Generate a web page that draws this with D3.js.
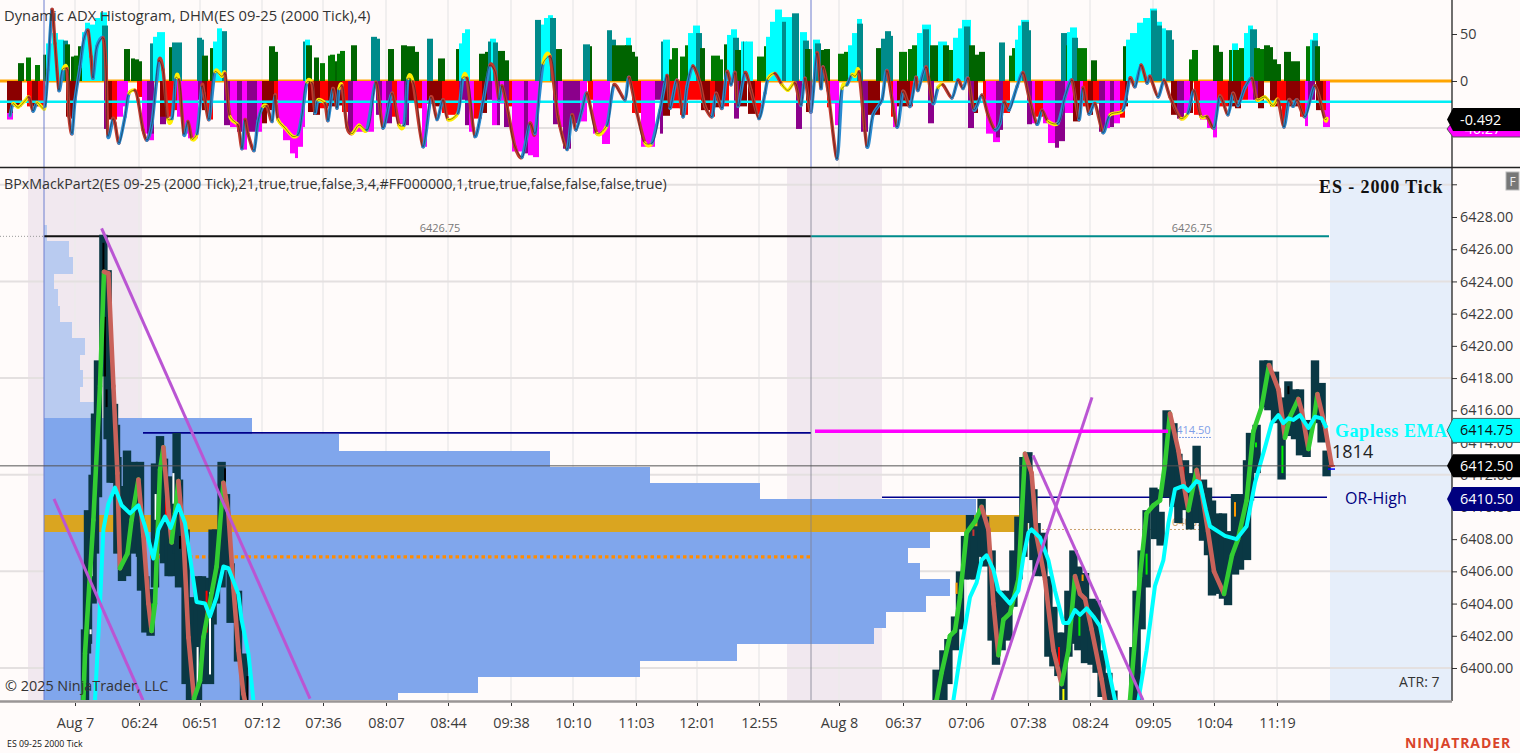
<!DOCTYPE html>
<html><head><meta charset="utf-8"><title>ES 09-25 2000 Tick</title>
<script src="https://cdnjs.cloudflare.com/ajax/libs/d3/7.9.0/d3.min.js"></script>
<style>html,body{margin:0;padding:0;background:#fffbfa;overflow:hidden}svg{display:block}text{font-family:"Open Sans","Noto Sans",sans-serif}</style>
</head><body><svg id="c" width="1520" height="753"></svg>
<script>
// ---- time axis (bar numbers) ----
const axisBars=[37.5,69.5,100,131,161.5,193,224,255.5,286.5,318,348.5,379.5,419.5,451.5,483,514,545,576.5,607,638.5];
const axisLabels=["Aug 7","06:24","06:51","07:12","07:36","08:07","08:44","09:38","10:10","11:03","12:01","12:55","Aug 8","06:37","07:06","07:38","08:24","09:05","10:04","11:19"];
// ---- ADX histogram runs: start bar, end bar, value, colour key ----
const histDown=[[3.5,6.5,-41,'P'],[3.5,6.5,-34,'M'],[6.5,11,-27,'M'],[13.5,16,-27,'R'],[16,19,-27,'M'],[19,22.5,-27,'R'],[33,35.5,-38,'M'],[35.5,37,-40,'M'],[37,38,-24,'M'],[52,54,-51,'V'],[54,56,-41,'M'],[56,58.5,-41,'R'],[58.5,61.5,-38,'P'],[61.5,64,-27,'P'],[68.5,71,-17,'R'],[71,73.5,-56,'P'],[73.5,77,-63,'P'],[73.5,77,-56,'V'],[80,83,-46,'V'],[80,83,-38,'M'],[83,86,-38,'R'],[86,88.5,-31,'R'],[88.5,91,-38,'P'],[91,94,-56,'P'],[94,99,-61,'P'],[99,101,-20,'V'],[101,103.5,-31,'M'],[103.5,106.5,-41,'R'],[112,115,-47,'V'],[115,118.5,-49,'P'],[118.5,121,-54,'V'],[121,123.5,-73,'P'],[123.5,125.5,-54,'V'],[125.5,128.5,-54,'V'],[128.5,131,-54,'P'],[131,133.5,-45,'M'],[133.5,137,-31,'M'],[137,139,-20,'R'],[139,141.5,-45,'P'],[141.5,145,-63,'P'],[145,147.5,-77,'P'],[147.5,149,-82,'P'],[149,151.5,-70,'P'],[151.5,152.5,-49,'P'],[154,156.5,-33,'M'],[156.5,160,-36,'M'],[160,164,-29,'R'],[164,167.5,-27,'M'],
[166,171,-26,'M'],[171,174,-33,'R'],[174,176.5,-56,'V'],[176.5,179,-54,'P'],[179,187,-54,'P'],[188,191,-36,'V'],[191,193,-49,'P'],[193,196,-45,'V'],[196,198.5,-38,'R'],[198.5,202,-46,'P'],[202,204.5,-47,'V'],[204.5,207.5,-23,'M'],[207.5,211,-29,'R'],[211,213.5,-70,'P'],[213.5,216.5,-24,'M'],[216.5,221,-27,'M'],[221,223.5,-34,'R'],[223.5,229.5,-36,'R'],[229.5,232.5,-20,'V'],[232.5,234.5,-47,'V'],[234.5,237,-54,'P'],[237,241,-40,'R'],[241,243.5,-34,'M'],[243.5,246,-20,'V'],[246,248.5,-47,'P'],[248.5,250,-47,'V'],[250,252,-24,'P'],[252,254.5,-49,'V'],[254.5,256,-27,'R'],[256,262,-75,'P'],[262,264,-77,'V'],[264,266.5,-79,'P'],[266.5,269.5,-81,'P'],[276.5,279,-46,'V'],[279,281.5,-49,'P'],[281.5,285.5,-72,'V'],[285.5,290,-45,'V'],[290,293.5,-43,'P'],[294,296.5,-20,'R'],[296.5,301,-56,'P'],[301,305,-67,'P'],[316,320.5,-34,'R'],[320.5,327.5,-70,'P'],[327.5,331.5,-20,'V'],[330,331.5,-56,'V'],[331.5,335,-37,'M'],
[335,340,-29,'R'],[340,344,-36,'R'],[344,350.5,-20,'R'],[350.5,355,-31,'M'],[355,357.5,-38,'R'],[357.5,361.5,-28,'M'],[361.5,364.5,-27,'R'],[367,369.5,-40,'V'],[369.5,373.5,-27,'M'],[374,377.5,-35,'M'],[377.5,380.5,-35,'R'],[398,401,-51,'V'],[403,406,-33,'M'],[413.5,415,-28,'R'],[415,417.5,-24,'P'],[417.5,419.5,-47,'P'],[430.5,434,-54,'V'],[434,440,-36,'M'],[445.5,446.5,-38,'R'],[446.5,448.5,-49,'P'],[448.5,455,-27,'M'],[455,456.5,-27,'R'],[464,467,-45,'V'],[484,487,-50,'V'],[487,489,-34,'M'],[491.5,493,-20,'R'],[493,496.5,-56,'P'],[496.5,500,-65,'P'],[498,500,-60,'V'],[500,501.5,-52,'V'],[501.5,505,-34,'R'],
[513.5,516,-46,'V'],[516,517.5,-45,'P'],[517.5,521.5,-38,'R'],[521.5,524,-45,'P'],[524,527.5,-66,'P'],[527.5,529.5,-71,'V'],[529.5,532.5,-64,'V'],[532.5,536.5,-34,'P'],[536.5,540,-43,'M'],[540,541.5,-20,'P'],[541.5,544,-27,'R'],[544,546.5,-36,'M'],[546.5,549.5,-24,'R'],[549.5,552.5,-54,'V'],[552.5,555,-50,'P'],[555,557,-49,'V'],[557,560,-45,'P'],[560,562.5,-39,'R'],[562.5,564,-27,'M'],[585.5,588.5,-36,'M'],[588.5,592,-40,'V'],[592,595,-34,'P'],[595,596.5,-34,'M'],[597,600,-36,'R'],[600,603.5,-41,'P'],[603.5,606.5,-50,'P'],[606.5,608.5,-60,'P'],[608.5,614,-27,'R'],[614,617.5,-27,'M'],[617.5,620.5,-29,'M'],[620.5,624,-20,'R'],[624,626.5,-20,'P'],[626.5,629,-20,'V'],[629,632,-29,'M'],[635,638.5,-27,'M'],[638.5,641,-27,'R'],[641,643,-45,'R'],[643,650,-27,'M'],[650,652.5,-38,'R'],[652.5,654,-48,'P'],[654,657.5,-20,'V'],[658,661.5,-31,'M'],[661.5,665,-49,'P'],[661.5,663,-31,'R']];
const histUp=[[9,12,19,'G'],[13,15.5,25,'g'],[17.5,20,17,'g'],[21.5,23,28,'G'],[23,26.5,40,'C'],[26,29,51,'C'],[29,32,44,'C'],[31.5,34,43,'T'],[32.5,35,39,'G'],[35.5,37,26,'G'],[37,40,27,'g'],[39,41,37,'G'],[41,42.5,52,'C'],[42.5,45,62,'C'],[45,47.5,60,'C'],[47.5,50,67,'C'],[50,53.5,73,'C'],[51,54,59,'T'],[62,65,34,'G'],[65.5,67.5,24,'G'],[67.5,69.5,23,'G'],[69.5,71,21,'G'],[75,76.5,40,'T'],[76.5,78.5,47,'C'],[78.5,82.5,52,'C'],[84.5,86,36,'G'],[86,91,41,'T'],[98.5,101,46,'T'],[101,102,44,'T'],[101,104,27,'G'],[105,106.5,35,'G'],[106.5,108.5,42,'C'],[108.5,111,56,'C'],[111,113.5,53,'T'],[134.5,137.5,37,'G'],[137.5,139,31,'G'],[151.5,153,42,'T'],[152.5,155,44,'C'],[153,156,38,'G'],[157,159.5,25,'G'],[160,162.5,19,'g'],[164,165,27,'g'],
[165,167.5,28,'g'],[167.5,168.5,21,'G'],[168.5,170,29,'g'],[170,172.5,32,'g'],[175.5,178.5,38,'G'],[185.5,188.5,47,'T'],[188.5,190,45,'T'],[194,197,34,'G'],[200.5,203.5,38,'G'],[202.5,205,37,'G'],[205,207.5,37,'G'],[207.5,209.5,31,'G'],[213.5,216.5,45,'T'],[219,222.5,24,'G'],[228,229.5,34,'G'],[229.5,231,40,'C'],[231,232.5,51,'C'],[232.5,235,55,'C'],[239.5,242.5,29,'G'],[242.5,244,31,'G'],[245,248,45,'C'],[244,245.5,42,'T'],[246.5,249,41,'T'],[249,252.5,32,'G'],[252.5,254.5,22,'G'],[267.5,270.5,65,'T'],[270.5,272,60,'C'],[272,274,67,'C'],[274,276.5,70,'C'],[275,278,67,'T'],[278,281,34,'G'],[291.5,295,39,'T'],[295,296,37,'G'],[303.5,306,54,'T'],[306,308,44,'T'],[306,311.5,38,'G'],[311.5,313,38,'G'],[313,315.5,46,'C'],[312.5,316,38,'G'],[316,317.5,31,'G'],[317.5,319,26,'G'],[330.5,331.5,42,'T'],[331.5,335,44,'C'],
[334.5,336,23,'g'],[336,339,35,'g'],[340,342.5,26,'g'],[342.5,344,38,'g'],[344,346.5,51,'C'],[346.5,350,59,'C'],[348,351,51,'T'],[350,352.5,35,'G'],[355.5,360,27,'g'],[360,361.5,23,'g'],[362,363.5,39,'G'],[363.5,365.5,49,'C'],[365.5,368.5,55,'C'],[366.5,369.5,46,'T'],[367.5,370.5,33,'G'],[370.5,373.5,42,'C'],[373,376.5,42,'C'],[371.5,372,42,'T'],[378.5,382,26,'g'],[382,383,37,'g'],[383,385,47,'C'],[385,387.5,63,'C'],[387.5,391,76,'C'],[391,393.5,68,'C'],[391,393,63,'T'],[393.5,396,68,'C'],[396,399.5,72,'T'],[400,403.5,52,'C'],[401.5,404.5,43,'T'],[402.5,406,34,'G'],[406.5,410,44,'C'],[407.5,410.5,40,'T'],[410.5,412,33,'G'],[412,415,34,'G'],[419,422,29,'g'],[422,424,31,'g'],[424,426,38,'C'],[426,428.5,51,'C'],[428.5,431,66,'C'],[428.5,431.5,61,'T'],[438,440.5,35,'G'],[440.5,442.5,45,'T'],[442.5,445.5,53,'T'],[445.5,446.5,48,'T'],[449.5,453.5,31,'g'],[454,456,34,'g'],[456,458.5,38,'g'],[458.5,461.5,51,'C'],[461,465.5,60,'C'],[461.5,464.5,55,'T'],[465,469,38,'G'],[469,473.5,42,'C'],[471.5,474.5,38,'G'],[474.5,476.5,33,'g'],[476.5,479,46,'C'],[479,481,56,'C'],[481,485.5,65,'C'],[482,485,58,'T'],[484.5,487.5,38,'G'],[487.5,489.5,28,'G'],[489.5,492.5,31,'G'],
[499.5,502.5,41,'T'],[504.5,506,27,'g'],[506,507.5,35,'g'],[507.5,509,44,'C'],[509,510.5,59,'C'],[510.5,514.5,65,'C'],[511,514.5,63,'T'],[514.5,515.5,54,'T'],[530.5,533.5,51,'T'],[533,534,38,'g'],[533.5,535,52,'C'],[535,538.5,57,'C'],[536,539,46,'T'],[538.5,543.5,35,'g'],[545.5,548.5,22,'G'],[561.5,563,37,'G'],[563,565,44,'C'],[565,568.5,51,'C'],[568.5,571.5,62,'C'],[571.5,575,67,'C'],[575,578.5,77,'C'],[575.5,578.5,75,'T'],[578.5,581,63,'C'],[578.5,581,59,'T'],[581,583,56,'C'],[583,586,54,'T'],[586,587,44,'T'],[594.5,596,23,'g'],[596,599,33,'g'],[606.5,609.5,38,'G'],[609.5,611.5,31,'G'],[614.5,616,33,'g'],[616,619,40,'C'],[616.5,619.5,33,'g'],[619.5,622,35,'g'],[622,624,51,'C'],[624,626.5,59,'C'],[625,628.5,55,'T'],[627,630,35,'g'],[630,632,34,'g'],[632,635,38,'G'],[635,636.5,36,'G'],[636.5,638.5,23,'G'],[638.5,640.5,18,'G'],[642,645.5,31,'G'],[645.5,650,21,'G'],[653,655,37,'g'],[655,656.5,44,'C'],[656.5,659,51,'C'],[656,659,43,'T'],[657.5,660,37,'G']];
// ---- ADX line: bar, value ----
const adxLine=[[5,-37],[6.5,-24],[9,-28],[12.5,-21],[14.5,-17],[16.5,-32],[18.5,-23],[21.5,-29],[22.5,-27],[24,12],[26,76],[27.5,40],[29.5,-10],[31.5,13],[33.5,13],[34.5,-38],[36,-56],[37.5,-20],[40,15],[42,45],[44,54],[45.5,26],[46.5,3],[48.5,37],[51.5,46],[53,15],[54,-59],[56.5,-40],[57.5,-45],[59.5,-66],[62.5,-38],[64.5,-13],[67.5,-10],[69,-20],[71.5,-52],[73.5,-63],[76,-45],[79.5,22],[81.5,12],[84,-41],[86,-40],[88,4],[89.5,1],[92,-57],[94,-43],[96,-62],[98.5,-56],[101,-5],[102,-13],[104.5,-41],[107.5,10],[111,5],[112.5,8],[115,-38],[119,-47],[121,-72],[122.5,-41],[124,-56],[127,-74],[129,-43],[131.5,-27],[133.5,-27],[136,-43],[137.5,-15],[139,-41],[142.5,-50],[146.5,-59],[149,-57],[151,-36],[153.5,-1],[156,-2],[157.5,-34],[159,-20],[162.5,-24],[164,-42],[166.5,-8],[168.5,-29],[169.5,-8],[171,-5],[173.5,-49],[176,-56],[179.5,-47],[183.5,-52],[188,-1],[191.5,-50],[196,-13],[199.5,-47],[202,-47],[204,3],[206.5,-1],[211.5,-70],[215.5,-17],[218.5,-41],[221.5,-20],[224,-41],[229,-34],[231.5,4],[233.5,3],[237.5,-59],[241.5,-22],[245,17],[247.5,10],[249.5,-20],[251,-5],[253.5,-27],[257.5,-70],[261,-81],[265,-45],[267.5,-56],[271.5,19],[275,26],[279,-38],[283.5,-73],[286,-36],[288,-52],[291,-31],[293.5,-13],[298.5,-56],[303.5,-47],[307,-4],[312.5,-20],[314.5,4],[318.5,-34],[322.5,-66],[326,-66],[330,-31],[333.5,6],[335,-29],[338.5,1],[341.5,-38],[343.5,-6],[346.5,16],[350,-2],[352.5,-27],[356,-38],[358,-13],[361,-29],[363.5,10],[365.5,-4],[367.5,9],[369,-27],[372.5,9],[375.5,-10],[379.5,-40],[382.5,-13],[384,3],[387.5,8],[391,-4],[394,-10],[397.5,-2],[400.5,-26],[402.5,3],[405.5,-33],[408.5,30],[410.5,-8],[411.5,15],[414,-10],[418.5,-83],[421,-8],[423.5,-4],[426,7],[427.5,5],[429.5,10],[433.5,-70],[436.5,-36],[441,-20],[443.5,11],[448.5,-49],[451.5,-11],[455,-27],[458,4],[459,-10],[463,15],[466.5,-24],[469,-7],[471.5,-4],[476,-18],[479,1],[481.5,-8],[484,3],[487,-31],[491,-15],[494,-36],[497.5,-52],[500,-45],[502,-22],[504.5,-31],[508.5,-6],[511.5,9],[514.5,-17],[518.5,-46],[521,-31],[524,-43],[529,-45],[532.5,-17],[536,1],[539.5,-41],[541.5,-7],[544.5,-35],[547.5,-24],[551.5,-55],[555,-36],[561.5,-31],[565,3],[567.5,-6],[570.5,17],[573.5,-2],[575,5],[579,-17],[582,1],[585,-17],[590.5,-40],[594,-34],[597,-10],[600.5,-38],[603.5,-38],[607,-50],[610,-16],[614,-36],[616.5,-13],[619,-26],[622.5,-7],[626,3],[628.5,-20],[632.5,-17],[636.5,-26],[639,-20],[642,-49],[644.5,-20],[646.5,-27],[648.5,-20],[652.5,-38],[657.5,-5],[662.5,-41],[663.5,-40]];
// ---- price series ----
const candleBars=[42.5,43.5,44,46.3,47.5,49,51.7,53.8,55.3,57,58,58.7,61,63.5,66.8,70,70.5,72.7,75.3,77.5,80,82,84.3,86,88.3,89.5,92.8,95,99,101,105,106.3,108,110.8,113,115.3,119,122,468.3,471.7,474.2,477.5,480,482.5,485,487.5,490.8,492.5,495.8,498,500.8,504.2,506.7,509.2,511.7,514.2,516.7,518.3,521.7,524.2,526.7,529.2,531.7,534.2,536.7,539.2,542.5,545.8,548.3,550.8,554.2,556.7,566.7,568.3,570.8,573.3,576.7,577.5,580.3,583.3,586.7,589.2,592.5,595,598.3,601.5,604,606,609,611.5,614,617.5,620,623.5,625,628.3,631.7,634.2,637.5,640.8,644.2,647.5,650,653.3,657.5,660.8,663.3];
const candleHighs=[6402.4,6406.5,6409.8,6412,6415.8,6419.1,6426.9,6424.7,6417.3,6416.4,6415.1,6413.1,6411.3,6413.5,6412.8,6412.8,6409.2,6405.7,6404.9,6412.7,6414.4,6413,6411.9,6411,6414.6,6411.7,6408.6,6404.4,6405.7,6405.7,6405.6,6408.6,6408.6,6412.8,6410.8,6406.5,6404.8,6400.9,6399.9,6401.1,6401.8,6403.2,6406,6408.2,6409.5,6408.8,6410.5,6409.4,6407.3,6404.8,6404.8,6404.8,6407.3,6409.4,6413.1,6413.4,6411.1,6409,6408.4,6405.7,6403.8,6402.2,6402.2,6404.8,6407.3,6406.3,6405.9,6404.3,6404.2,6401.1,6399.7,6398.6,6401.3,6404.8,6407.3,6409.8,6411.2,6411.1,6409.7,6416,6415.2,6413.3,6412.9,6412.1,6413.8,6411.7,6411.2,6410.4,6409.6,6409.6,6408.5,6410.8,6410.8,6412.9,6414.6,6415.1,6419.1,6419.1,6418.4,6416.8,6417.8,6417.3,6417.3,6415.4,6419.1,6417.7,6413.5];
const candleLows=[6398,6400.9,6401.5,6404,6407.1,6410.6,6418.1,6414.2,6411.5,6411.5,6411.5,6407.1,6405.4,6405.7,6407.1,6406.9,6404.8,6402.2,6402,6405,6407.1,6406.5,6405.7,6405.7,6407.1,6405,6399,6398,6398,6399,6399,6402.7,6404,6405,6406.1,6402.8,6400.4,6398,6398,6398,6399,6401.1,6402.4,6405.5,6405.5,6405.5,6406.9,6406.3,6401.7,6400.2,6401.1,6401.7,6403.8,6405.5,6406.9,6409,6406.7,6405.7,6405.7,6400.7,6400.1,6399.5,6398,6400.7,6401.5,6401.1,6400.3,6400.2,6399.7,6398.2,6398,6398,6398,6398,6402.4,6405,6409.8,6408,6407.6,6410.6,6410,6409,6409.8,6408.6,6409,6407.9,6407,6404.5,6404.6,6404.3,6403.9,6405.8,6406.1,6406.7,6410.4,6412.1,6416.2,6416,6415.2,6411.7,6414.4,6414.2,6413.2,6413.1,6415.2,6414,6411.9];
const barMarks=[[45.8,6407,6405.7,'#fff'],[45.3,6402.4,6402.1,'#fff'],[77.8,6410.8,6409.2,'#fff'],[86.7,6412.1,6410.2,'#fff'],[105,6404.7,6399.6,'#fff'],[98.8,6401.3,6398.8,'#fff'],[83,6411.3,6409.2,'#f00'],[103.3,6404.8,6402.2,'#f00'],[76.2,6404,6402.8,'#0d0'],[51.7,6426.4,6424.7,'#000'],[52.5,6421.8,6418.1,'#000'],[53.3,6417.3,6416.2,'#000'],[90,6408.2,6407.4,'#000'],[112.5,6412.4,6411.5,'#000'],[123.7,6399.5,6398,'#000'],[478.3,6405.3,6404.6,'#f90'],[541.3,6405.8,6405.4,'#f90'],[573.3,6407.1,6405.8,'#0e0'],[539.7,6403.2,6402,'#0e0'],[531.7,6398.7,6398,'#ff0'],[529.5,6401.3,6400.2,'#f00'],[486.7,6408.6,6408.2,'#c33'],[591.7,6412.5,6411.3,'#f00'],[641.2,6413.8,6412.1,'#0e0'],[628,6414,6413.7,'#0e0'],[617.5,6410.3,6409.4,'#f90'],[644.2,6417.5,6417,'#000']];
const fastMA=[[41.7,6398],[42.5,6400.9],[46.7,6409.2],[50,6417.5],[52,6424.6],[54.2,6424.5],[56.7,6417.5],[58.7,6412.1],[60,6406.2],[63.7,6407.1],[65.8,6409.2],[69.2,6411.7],[71.7,6408.2],[74.2,6404],[75.8,6402.3],[77.5,6404],[80,6412.3],[81.7,6413.7],[84.2,6409.8],[85.8,6407.8],[87.5,6409.6],[89.2,6411.6],[91.7,6408.2],[94.2,6401.9],[97,6398.1],[100,6399.2],[101.7,6401.9],[108.3,6406.3],[111.7,6411.5],[114.2,6409.6],[116.7,6405],[119.2,6401.1],[121.7,6398.4],[124.2,6397],[466,6397],[468.3,6398],[470.8,6399.7],[475,6402],[477.5,6402.3],[480,6404.4],[483.3,6408.4],[487.5,6409.1],[490.8,6410],[494.2,6408.6],[496.7,6404],[499.2,6400.8],[501.7,6403],[505,6403.4],[509.2,6405.5],[512.5,6413.3],[515.8,6412.1],[518.3,6408.2],[522.5,6405.5],[526.7,6401.1],[530.8,6399],[534.2,6401.1],[537.5,6405.7],[540,6404.6],[542.5,6404.3],[545.8,6402.4],[550.8,6399.3],[552.5,6398],[555,6397],[564,6397],[565,6398],[570,6405.7],[573.3,6409.6],[576.7,6410.1],[580,6410.4],[582.5,6412.7],[585,6415.8],[589.2,6413.5],[591.7,6411.5],[594.2,6409.8],[598.3,6412.3],[601,6410.8],[604,6408.5],[607,6406],[612,6404.6],[616,6407],[619,6408],[623.3,6410.4],[626.7,6414.7],[630.8,6416.2],[634.5,6418.8],[639.2,6417.3],[642.5,6414.3],[645,6415.6],[649.2,6416.7],[650.8,6416],[654.2,6413.6],[656.7,6415.2],[658.7,6417],[662.5,6415],[665.8,6412.6]];
const gaplessEMA=[[47.5,6398],[50,6404],[51.7,6408.6],[54.2,6410.2],[57.5,6411.2],[60.8,6410.1],[65,6409.6],[69.2,6410.1],[72.5,6408.8],[76.7,6406.8],[79.2,6408.6],[82.5,6409.4],[85.3,6408.7],[89.2,6410.1],[92.5,6409],[95,6406.9],[98.3,6404.1],[102.5,6404],[105,6403.2],[108.3,6404.4],[111.7,6406.3],[114.2,6406.2],[119.2,6404.6],[120.8,6403],[124.2,6400.9],[126.7,6398],[127,6397],[476,6397],[476.7,6398],[480,6400.7],[485,6404.4],[488.3,6405.3],[490.8,6406.7],[493.3,6407],[496.7,6406.1],[499.2,6404.8],[505,6404],[509.2,6404.8],[511.7,6406.9],[514.2,6408.4],[515.8,6408.6],[520,6408.1],[524.2,6406.7],[527.5,6404.8],[531.7,6402.8],[534.2,6402.8],[537.5,6403.6],[540,6403.3],[543.3,6403.7],[546.7,6403.2],[550,6402.6],[553.3,6400.5],[557.5,6398],[558,6397],[568,6397],[569.2,6398],[573.3,6401.1],[577.5,6405.1],[581.7,6406.7],[584.2,6409],[587.5,6411.1],[591.7,6411.3],[594.2,6411],[598.3,6411.6],[600,6411.5],[603,6409.8],[605,6408.8],[612.5,6408.2],[618.3,6408],[623.3,6408.8],[627.5,6411.5],[632.5,6413.7],[635.8,6415.2],[639.2,6415.7],[641.7,6415.2],[644.2,6415.5],[646.7,6415.4],[650,6415.7],[654.2,6414.9],[657.5,6415.6],[660.8,6415.5],[663.3,6414.9]];
const trendLines=[[[50.8,6427.3],[155,6398.1]],[[27,6410.5],[71.5,6398]],[[496,6398],[546,6416.8]],[[516.5,6413.2],[571.5,6398]]];
// ---- volume profile ----
const profilePrices=[6427,6426,6425,6424,6423,6422,6421,6420,6419,6418,6417,6416,6415,6414,6413,6412,6411,6410,6409,6408,6407,6406,6405,6404,6403,6402,6401,6400,6399,6398];
const profileVolumes=[3,25,29,10,14,16,28,41,36,39,36,50,208,295,506,606,716,932,984,886,864,876,906,882,842,830,693,596,434,354];
const priceTicks=d3.range(6400,6429,2);
const adxTicks=[50,0];

const svg=d3.select('#c'), W=1520, AX=1452;
const x=d3.scaleLinear([0,760],[0,1520]);
const yA=d3.scaleLinear([0,50],[81,34]);
const yP=d3.scaleLinear([6400,6428],[668,217]);
const vol=d3.scaleLinear([0,984],[44,1028]);
const pal={G:'#006400',g:'#007a00',T:'#008b8b',C:'#00ffff',M:'#8b0000',R:'#ff0000',P:'#ff00ff',V:'#8b008b'};
const defs=svg.append('defs');
defs.append('clipPath').attr('id','ct').append('rect').attr('x',0).attr('y',0).attr('width',AX).attr('height',167);
defs.append('clipPath').attr('id','cm').append('rect').attr('x',0).attr('y',168).attr('width',AX).attr('height',532);
svg.append('rect').attr('width',W).attr('height',753).attr('fill','#fffbfa');

// session shading + right blue zone
[[14,71],[393.5,441]].forEach(d=>svg.append('rect').attr('x',x(d[0])).attr('width',x(d[1])-x(d[0])).attr('y',168).attr('height',532).attr('fill','#f1e8ef'));
svg.append('rect').attr('x',x(665)).attr('width',AX-x(665)).attr('y',168).attr('height',532).attr('fill','#e6eefa');
// grids
axisBars.forEach(b=>{
 svg.append('line').attr('x1',x(b)).attr('x2',x(b)).attr('y1',0).attr('y2',700).attr('stroke','#ecebeb').attr('stroke-width',1.5);
});
[6430,6424,6418,6412,6406,6400].forEach(p=>svg.append('line').attr('x1',0).attr('x2',AX).attr('y1',yP(p)).attr('y2',yP(p)).attr('stroke','#e4e0e0').attr('stroke-width',2));
svg.append('line').attr('x1',0).attr('x2',AX).attr('y1',yA(-50)).attr('y2',yA(-50)).attr('stroke','#e4e0e0').attr('stroke-width',2);
const mainG=svg.append('g').attr('clip-path','url(#cm)');

// Catmull-Rom segment so a coloured line can still bend smoothly
const seg=(pts,i,fx,fy)=>{
 const p=k=>pts[Math.max(0,Math.min(pts.length-1,k))], P=k=>[fx(p(k)[0]),fy(p(k)[1])];
 const a=P(i-1),b=P(i),c=P(i+1),e=P(i+2),t=.12;
 return `M${b}C${b[0]+(c[0]-a[0])*t},${b[1]+(c[1]-a[1])*t} ${c[0]-(e[0]-b[0])*t},${c[1]-(e[1]-b[1])*t} ${c}`;
};

// ---- top panel ----
const topG=svg.append('g').attr('clip-path','url(#ct)');
topG.append('line').attr('x1',0).attr('x2',AX).attr('y1',yA(0)).attr('y2',yA(0)).attr('stroke','#ffa500').attr('stroke-width',3);
topG.selectAll('rect.d').data(histDown).join('rect').attr('x',d=>x(d[0])).attr('width',d=>x(d[1])-x(d[0])).attr('y',yA(0)).attr('height',d=>yA(d[2])-yA(0)).attr('fill',d=>pal[d[3]]);
topG.selectAll('rect.u').data(histUp,(d,i)=>'u'+i).join('rect').attr('x',d=>x(d[0])).attr('width',d=>x(d[1])-x(d[0])).attr('y',d=>yA(d[2])).attr('height',d=>yA(0)-yA(d[2])).attr('fill',d=>pal[d[3]]);
topG.append('line').attr('x1',0).attr('x2',AX).attr('y1',yA(-22)).attr('y2',yA(-22)).attr('stroke','#00eef5').attr('stroke-width',2.5);
const smooth=d3.line().x(d=>x(d[0])).y(d=>yA(d[1])).curve(d3.curveCatmullRom.alpha(.5));
d3.pairs(adxLine).forEach(([a,b],i)=>{
 const s=(b[1]-a[1])/(b[0]-a[0]);
 const c=Math.abs(s)<2.6?'#ffee00':(s>0?'#2a8ad0':'#c03a2e');
 topG.append('path').attr('d',seg(adxLine,i,x,yA)).attr('fill','none').attr('stroke',c).attr('stroke-width',3.4).attr('stroke-linecap','round');
});
topG.append('path').attr('d',smooth(adxLine)).attr('fill','none').attr('stroke','#1a1a20').attr('stroke-width',.7).attr('opacity',.75);
topG.append('line').attr('x1',x(22)).attr('x2',x(22)).attr('y1',0).attr('y2',167).attr('stroke','#6f7fcf').attr('stroke-width',1);
topG.append('line').attr('x1',x(405.5)).attr('x2',x(405.5)).attr('y1',0).attr('y2',167).attr('stroke','#6f7fcf').attr('stroke-width',1);

// ---- price panel ----
mainG.selectAll('rect.p').data(profilePrices,(d,i)=>'p'+i).join('rect')
 .attr('shape-rendering','crispEdges')
 .attr('x',vol(0)).attr('width',(d,i)=>vol(profileVolumes[i])-vol(0))
 .attr('y',d=>yP(d+.5)).attr('height',d=>yP(d-.5)-yP(d+.5)+.6)
 .attr('fill',d=>d===6409?'#daa520':(d>=6416?'#b9cbf0':'#80a6ec'));
// keep the gold row on top of its neighbours
mainG.selectAll('rect').filter(d=>d===6409).raise();
mainG.append('line').attr('x1',x(513)).attr('x2',x(600)).attr('y1',yP(6408.6)).attr('y2',yP(6408.6)).attr('stroke','#c9a06a').attr('stroke-width',1).attr('stroke-dasharray','2 2');
mainG.append('text').attr('x',x(586)).attr('y',yP(6408.6)-3).attr('font-size',11).attr('fill','#c9a06a').text('6408.75');
mainG.append('line').attr('x1',x(75)).attr('x2',x(405.5)).attr('y1',yP(6406.9)).attr('y2',yP(6406.9)).attr('stroke','#ff8c00').attr('stroke-width',3.4).attr('stroke-dasharray','3.5 3');
mainG.append('line').attr('x1',0).attr('x2',x(22)).attr('y1',yP(6426.8)).attr('y2',yP(6426.8)).attr('stroke','#999').attr('stroke-width',1).attr('stroke-dasharray','1 2');
mainG.append('line').attr('x1',x(22)).attr('x2',x(405.5)).attr('y1',yP(6426.8)).attr('y2',yP(6426.8)).attr('stroke','#111').attr('stroke-width',2);
mainG.append('line').attr('x1',x(405.5)).attr('x2',x(664.5)).attr('y1',yP(6426.8)).attr('y2',yP(6426.8)).attr('stroke','#008b8b').attr('stroke-width',2);
[220,596].forEach(b=>mainG.append('text').attr('x',x(b)).attr('y',yP(6426.8)-4).attr('text-anchor','middle').attr('font-size',11).attr('fill','#777').text('6426.75'));
mainG.append('line').attr('x1',x(71.5)).attr('x2',x(405.5)).attr('y1',yP(6414.6)).attr('y2',yP(6414.6)).attr('stroke','#00008b').attr('stroke-width',1.6);
mainG.append('line').attr('x1',x(441)).attr('x2',x(663.5)).attr('y1',yP(6410.6)).attr('y2',yP(6410.6)).attr('stroke','#00008b').attr('stroke-width',1.6);
mainG.append('text').attr('x',x(585)).attr('y',yP(6414.5)).attr('font-size',11).attr('fill','#7f9fe8').text('6414.50');
mainG.append('line').attr('x1',x(585)).attr('x2',x(606)).attr('y1',yP(6414.5)+3).attr('y2',yP(6414.5)+3).attr('stroke','#7f9fe8').attr('stroke-dasharray','2 1');
// candles
mainG.selectAll('rect.c').data(candleBars,(d,i)=>'c'+i).join('rect')
 .attr('x',d=>x(d)-4.2).attr('width',8.4)
 .attr('y',(d,i)=>yP(candleHighs[i])).attr('height',(d,i)=>yP(candleLows[i])-yP(candleHighs[i])).attr('fill','#0a3844');
mainG.selectAll('rect.m').data(barMarks,(d,i)=>'m'+i).join('rect').attr('x',d=>x(d[0])-1).attr('width',2).attr('y',d=>yP(d[1])).attr('height',d=>yP(d[2])-yP(d[1])).attr('fill',d=>d[3]);
// fast MA coloured by direction
d3.pairs(fastMA).forEach(([a,b])=>{
 mainG.append('line').attr('x1',x(a[0])).attr('y1',yP(a[1])).attr('x2',x(b[0])).attr('y2',yP(b[1])).attr('stroke',b[1]>=a[1]?'#32cd32':'#c9625a').attr('stroke-width',4.6).attr('stroke-linecap','round');
});
mainG.append('path').attr('d',d3.line().x(d=>x(d[0])).y(d=>yP(d[1]))(gaplessEMA)).attr('fill','none').attr('stroke','#00ffff').attr('stroke-width',4).attr('stroke-linejoin','round');
trendLines.forEach(l=>mainG.append('line').attr('x1',x(l[0][0])).attr('y1',yP(l[0][1])).attr('x2',x(l[1][0])).attr('y2',yP(l[1][1])).attr('stroke','#ba55d3').attr('stroke-width',3));
mainG.append('line').attr('x1',x(407.5)).attr('x2',x(584)).attr('y1',yP(6414.7)).attr('y2',yP(6414.7)).attr('stroke','#ff00ff').attr('stroke-width',3.4);
mainG.append('line').attr('x1',x(664)).attr('x2',x(667.5)).attr('y1',yP(6412.55)).attr('y2',yP(6412.55)).attr('stroke','#f00').attr('stroke-width',1.5);
mainG.append('line').attr('x1',x(664)).attr('x2',x(667.5)).attr('y1',yP(6412.35)).attr('y2',yP(6412.35)).attr('stroke','#00f').attr('stroke-width',1.5);
mainG.append('line').attr('x1',x(22)).attr('x2',x(22)).attr('y1',168).attr('y2',700).attr('stroke','#6f7fcf').attr('stroke-width',1);
mainG.append('line').attr('x1',x(405.5)).attr('x2',x(405.5)).attr('y1',168).attr('y2',700).attr('stroke','#7f7f90').attr('stroke-width',.8);
svg.append('line').attr('x1',0).attr('x2',AX).attr('y1',yP(6412.55)).attr('y2',yP(6412.55)).attr('stroke','#555').attr('stroke-width',1);

// frame + axes
svg.append('line').attr('x1',0).attr('x2',W).attr('y1',167.5).attr('y2',167.5).attr('stroke','#222').attr('stroke-width',1.3);
const styleAxis=g=>{g.select('.domain').remove();g.selectAll('.tick line').attr('stroke','#333');g.selectAll('text').attr('fill','#3c3c3c').attr('font-size',14.4).attr('font-family','"Open Sans",sans-serif');};
svg.append('g').attr('transform',`translate(${AX},0)`).call(d3.axisRight(yP).tickValues(priceTicks).tickFormat(d3.format('.2f')).tickSize(5).tickPadding(3)).call(styleAxis);
svg.append('line').attr('x1',AX).attr('x2',AX+5).attr('y1',yP(6430)).attr('y2',yP(6430)).attr('stroke','#333');
svg.append('g').attr('transform',`translate(${AX},0)`).call(d3.axisRight(yA).tickValues(adxTicks).tickSize(5).tickPadding(3)).call(styleAxis);
svg.append('line').attr('x1',AX).attr('x2',AX).attr('y1',0).attr('y2',701).attr('stroke','#222').attr('stroke-width',1.3);
svg.append('line').attr('x1',0).attr('x2',AX).attr('y1',701.5).attr('y2',701.5).attr('stroke','#9a9696').attr('stroke-width',2.4);
svg.append('g').attr('transform','translate(0,703)').call(d3.axisBottom(x).tickValues(axisBars).tickFormat((d,i)=>axisLabels[i]).tickSize(3).tickPadding(12)).call(styleAxis);

// flags
const flag=(yy,h,fill,stroke,tc,label)=>{
 const L=1447,B=1453,R=1521;
 svg.append('path').attr('d',`M${L},${yy}L${B},${yy-h/2}L${R},${yy-h/2}L${R},${yy+h/2}L${B},${yy+h/2}Z`).attr('fill',fill).attr('stroke',stroke||'none');
 svg.append('text').attr('x',1460).attr('y',yy+5).attr('font-size',14.4).attr('fill',tc).text(label);
};
flag(yA(-46.27)+4.5,16,'#ff00ff','#555','#fff','-46.27');
flag(yA(-41),23,'#000',null,'#fff','-0.492');
flag(yP(6414.75),24,'#00ffff','#3c6b6b','#111','6414.75');
flag(yP(6412.55),23,'#000',null,'#fff','6412.50');
flag(yP(6410.5),24,'#00007f',null,'#fff','6410.50');
svg.append('rect').attr('x',1506).attr('y',172).attr('width',13).attr('height',18).attr('fill','#777').attr('stroke','#bbb');
svg.append('text').attr('x',1512.5).attr('y',186).attr('text-anchor','middle').attr('font-size',12).attr('fill','#eee').text('F');

// texts
const T=(t,xx,yy,fs,fill,extra)=>{const e=svg.append('text').attr('x',xx).attr('y',yy).attr('font-size',fs).attr('fill',fill).text(t);if(extra)extra(e);return e;};
T('Dynamic ADX Histogram, DHM(ES 09-25 (2000 Tick),4)',4,21,14.75,'#333');
T('BPxMackPart2(ES 09-25 (2000 Tick),21,true,true,false,3,4,#FF000000,1,true,true,false,false,false,true)',4,189,14.25,'#333');
const serif=e=>e.style('font-family','"Liberation Serif","DejaVu Serif",serif').attr('font-weight','bold');
T('ES - 2000 Tick',1319,193,18,'#111',e=>{serif(e);e.attr('letter-spacing',.9);});
T('Gapless EMA',1335,437,18,'#00ffff',e=>{serif(e);e.attr('letter-spacing',.55);});
T('1814',1332,458,18,'#222');
T('OR-High',1345,504,16,'#00007f');
T('ATR: 7',1399,687,14,'#333');
T('© 2025 NinjaTrader, LLC',5,691,14.4,'#333');
T('ES 09-25 2000 Tick',7,747,8.8,'#111');
T('NINJATRADER',1405,748,14,'#d9442b',e=>e.attr('font-weight','bold').attr('letter-spacing',.9));
</script></body></html>
